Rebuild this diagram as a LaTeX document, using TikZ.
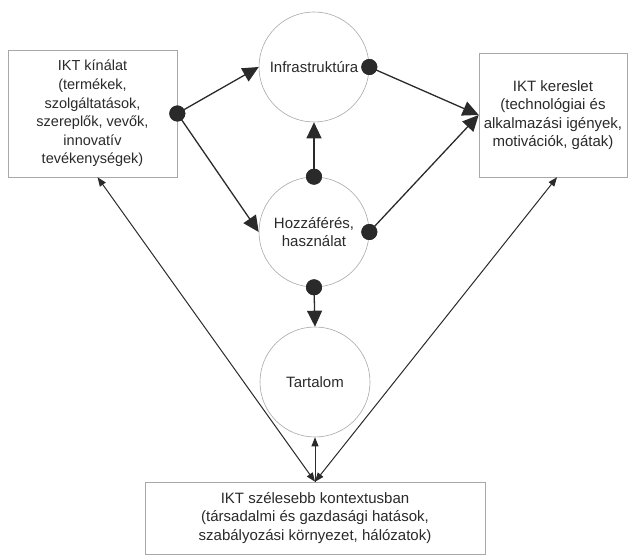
\documentclass[tikz,border=0pt]{standalone}
\usepackage{fontspec}
\setmainfont{Liberation Sans}
\usetikzlibrary{arrows.meta,calc}
\definecolor{ink}{HTML}{2A2A2A}
\definecolor{frame}{HTML}{A8A8A8}
\begin{document}
\begin{tikzpicture}[x=1pt,y=-1pt,
  box/.style={draw=frame, line width=0.6pt, fill=white, align=center, inner sep=0pt, text=ink, font=\fontsize{15}{18.3}\selectfont},
  circ/.style={draw=frame, line width=0.6pt, circle, minimum size=110pt, inner sep=0pt, align=center, text=ink, font=\fontsize{15}{18.3}\selectfont},
  conn/.style={draw=ink, line width=1.3pt, -{Triangle[length=16pt,width=15pt]}},
  thinconn/.style={draw=ink, line width=1pt, {Triangle[length=9pt,width=7pt]}-{Triangle[length=9pt,width=7pt]}},
  upconn/.style={draw=ink, line width=1pt, -{Triangle[length=9pt,width=7pt]}},
  dot/.style={circle, fill=ink, minimum size=16pt, inner sep=0pt},
]
\useasboundingbox (0,0) rectangle (630,556);

% boxes
\node[box, minimum width=169pt, minimum height=127pt, font=\fontsize{14.5}{18.6}\selectfont] (kin) at (92.5,113.5)
  {IKT kínálat\\(termékek,\\szolgáltatások,\\szereplők, vevők,\\innovatív\\tevékenységek)};
\node[box, minimum width=148pt, minimum height=124pt] (ker) at (553,115)
  {IKT kereslet\\(technológiai és\\alkalmazási igények,\\motivációk, gátak)};
\node[box, minimum width=340pt, minimum height=72pt] (ctx) at (315,518)
  {IKT szélesebb kontextusban\\(társadalmi és gazdasági hatások,\\szabályozási környezet, hálózatok)};

% circles
\node[circ] (inf) at (314,67) {Infrastruktúra};
\node[circ] (hoz) at (314,232) {Hozzáférés,\\használat};
\node[circ] (tar) at (315,382) {Tartalom};

% dots
\node[dot] (d1) at (kin.east) {};
\node[dot] (d2) at (inf.east) {};
\node[dot] (d3) at (hoz.north) {};
\node[dot] (d4) at (hoz.east) {};
\node[dot] (d5) at (hoz.south) {};

% connectors
\draw[conn] (d1.center) -- (inf.west);
\draw[conn] (d1.center) -- (hoz.west);
\draw[conn] (d3.center) -- (inf.south);
\draw[conn] (d2.center) -- (ker.west);
\draw[conn] (d4.center) -- (ker.west);
\draw[conn] (d5.center) -- (tar.north);

% dots on top of connector ends
\foreach \d in {d1,d2,d3,d4,d5} \fill[ink] (\d) circle (8pt);

% bottom connectors
\coordinate (lb) at ($(kin.south west)!0.53!(kin.south east)$);
\coordinate (rb) at ($(ker.south)+(4,0)$);
\draw[thinconn] (ctx.north) -- (lb);
\draw[thinconn] (ctx.north) -- (rb);
\draw[upconn] (ctx.north) -- (tar.south);
\end{tikzpicture}
\end{document}
